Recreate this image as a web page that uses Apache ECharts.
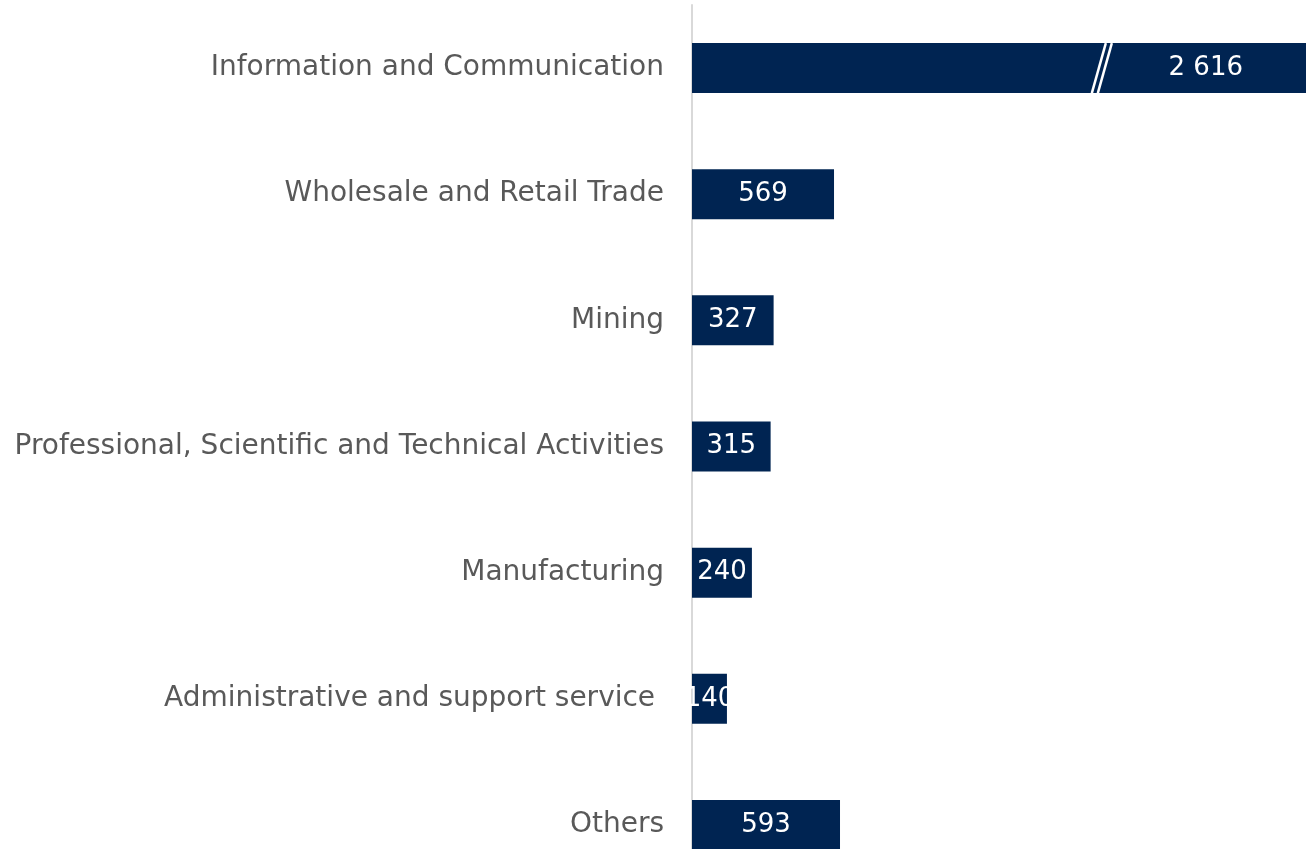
<!DOCTYPE html>
<html lang="en">
<head>
<meta charset="utf-8">
<title>Bars by sector</title>
<script src="https://cdn.jsdelivr.net/npm/echarts@6/dist/echarts.min.js"></script>
<style>
  html, body { margin: 0; padding: 0; background: #fff; overflow: hidden; }
  #chart { width: 1306px; height: 888px; }
</style>
</head>
<body>
<div id="chart"></div>
<script>
const CATEGORIES = [
  'Information and Communication',
  'Wholesale and Retail Trade',
  'Mining',
  'Professional, Scientific and Technical Activities',
  'Manufacturing',
  'Administrative and support service ',
  'Others'
];
const VALUES = [2616, 569, 327, 315, 240, 140, 593];

const NAVY = '#002452';
const FONT = 'DejaVu Sans';

var chart = echarts.init(document.getElementById('chart'));

chart.setOption({
  animation: false,
  grid: { left: 692, right: 0, top: 5, bottom: 0, containLabel: false },
  xAxis: {
    type: 'value',
    min: 0,
    max: 2460,
    show: false
  },
  yAxis: {
    type: 'category',
    inverse: true,
    data: CATEGORIES,
    axisLine: { show: true, lineStyle: { color: '#d9d9d9', width: 2 } },
    axisTick: { show: false },
    axisLabel: { color: '#595959', fontSize: 28, fontFamily: FONT, margin: 28 }
  },
  series: [{
    type: 'bar',
    barWidth: 50,
    clip: true,
    itemStyle: { color: NAVY },
    label: {
      show: true,
      position: 'inside',
      color: '#fff',
      fontSize: 26,
      fontFamily: FONT,
      formatter: function (p) {
        return String(p.value).replace(/\B(?=(\d{3})+(?!\d))/g, ' ');
      }
    },
    data: VALUES.map(function (v, i) {
      if (i === 0) {
        return { value: v, label: { position: 'insideRight', distance: 63 } };
      }
      return v;
    })
  }]
});

// break marks on the clipped first bar
var breakAt = 1630;
var bx = chart.convertToPixel({ xAxisIndex: 0 }, breakAt);
var by = chart.convertToPixel({ yAxisIndex: 0 }, 0);
var graphics = [];
[0, 6].forEach(function (dx) {
  graphics.push({
    type: 'line',
    shape: { x1: bx + dx + 7, y1: by - 25, x2: bx + dx - 7, y2: by + 25 },
    style: { stroke: '#fff', lineWidth: 2.5 },
    z: 100
  });
});
chart.setOption({ graphic: graphics });
</script>
</body>
</html>
